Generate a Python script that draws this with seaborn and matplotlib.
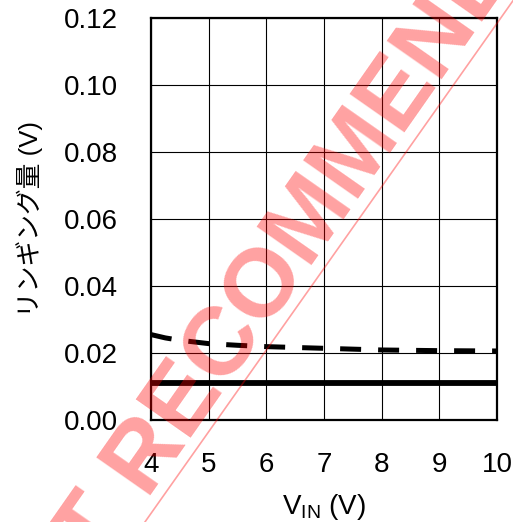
import matplotlib
matplotlib.use("Agg")
import matplotlib.pyplot as plt
import seaborn as sns
import pandas as pd
from matplotlib.lines import Line2D

# Ringing amplitude versus input voltage
vin_solid = [4, 5, 6, 7, 8, 9, 10]
ringing_solid = [0.0111, 0.0111, 0.0111, 0.0111, 0.0111, 0.0111, 0.0111]

vin_dashed = [4.0, 4.25, 4.5, 5.0, 5.5, 6.0, 7.0, 8.0, 9.0, 10.0]
ringing_dashed = [0.0255, 0.0245, 0.0238, 0.0228, 0.0223, 0.0219, 0.0214, 0.0209, 0.0207, 0.0206]

x_ticks = [4, 5, 6, 7, 8, 9, 10]
y_ticks = [0.00, 0.02, 0.04, 0.06, 0.08, 0.10, 0.12]
y_tick_labels = ["0.00", "0.02", "0.04", "0.06", "0.08", "0.10", "0.12"]

x_label = r"V$_\mathregular{IN}$ (V)"
y_label = "リンギング量 (V)"
stamp_text = "NOT RECOMMENDED"

sns.set_theme(style="white")
plt.rcParams["font.family"] = ["Liberation Sans", "Noto Sans CJK JP", "DejaVu Sans"]

fig = plt.figure(figsize=(5.13, 5.22), dpi=100)
ax = fig.add_axes([151 / 513, 1 - 420 / 522, 346 / 513, 402 / 522])

df_solid = pd.DataFrame({"vin": vin_solid, "ringing": ringing_solid})
df_dashed = pd.DataFrame({"vin": vin_dashed, "ringing": ringing_dashed})

sns.lineplot(data=df_solid, x="vin", y="ringing", ax=ax, color="black",
             linewidth=4.2, zorder=3)
sns.lineplot(data=df_dashed, x="vin", y="ringing", ax=ax, color="black",
             linewidth=3.6, linestyle=(0, (4.2, 3.4)), zorder=3)

ax.set_xlim(4, 10)
ax.set_ylim(0, 0.12)
ax.set_xticks(x_ticks)
ax.set_xticklabels([str(t) for t in x_ticks])
ax.set_yticks(y_ticks)
ax.set_yticklabels(y_tick_labels)
ax.tick_params(axis="both", length=0, labelsize=20, colors="black")
ax.tick_params(axis="x", pad=23)
ax.tick_params(axis="y", pad=24)

ax.grid(True, color="black", linewidth=0.8)
for s in ax.spines.values():
    s.set_visible(True)
    s.set_color("black")
    s.set_linewidth(1.6)

ax.set_xlabel(x_label, fontsize=20, labelpad=10, color="black")
ax.set_ylabel(y_label, fontsize=18.5, labelpad=15, color="black",
              family=["Liberation Sans", "Noto Sans CJK JP", "DejaVu Sans"])

# Diagonal stamp across the chart
stamp_color = (1.0, 0.0, 0.0)
fig.text(285 / 513, 1 - 260 / 522, stamp_text, fontsize=70, fontweight="bold",
         color=stamp_color, alpha=0.37, rotation=55, rotation_mode="anchor",
         ha="center", va="center", family="Liberation Sans", zorder=10)
fig.add_artist(Line2D([140 / 513, 517 / 513], [1 - 529 / 522, 1 - (-5) / 522],
                      transform=fig.transFigure, color=stamp_color, alpha=0.37,
                      linewidth=1.2, zorder=10))

fig.savefig("out.png", dpi=100)
